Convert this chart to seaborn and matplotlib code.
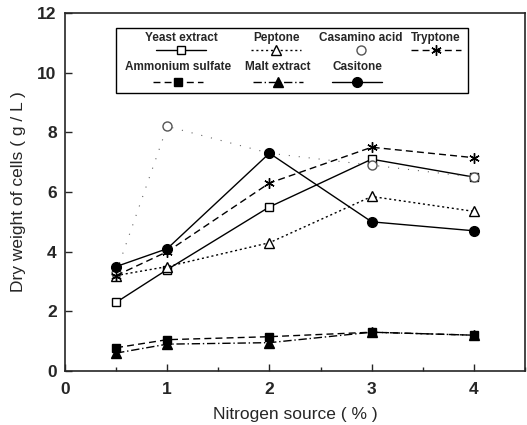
import matplotlib
matplotlib.use("Agg")
import matplotlib.pyplot as plt
from matplotlib.patches import Rectangle
from matplotlib.lines import Line2D
from matplotlib.ticker import MultipleLocator
import seaborn as sns
import pandas as pd

sns.set_style("ticks")
plt.rcParams['font.family'] = ['Liberation Sans', 'DejaVu Sans']

x_vals = [0.5, 1, 2, 3, 4]
yeast_extract = [2.3, 3.4, 5.5, 7.1, 6.5]
peptone = [3.2, 3.5, 4.3, 5.85, 5.35]
casamino_acid = [3.3, 8.2, 7.3, 6.9, 6.5]
tryptone = [3.2, 4.0, 6.3, 7.5, 7.15]
ammonium_sulfate = [0.78, 1.05, 1.15, 1.3, 1.2]
malt_extract = [0.6, 0.9, 0.95, 1.3, 1.2]
casitone = [3.5, 4.1, 7.3, 5.0, 4.7]

series = {
    "Yeast extract": yeast_extract,
    "Peptone": peptone,
    "Casamino acid": casamino_acid,
    "Tryptone": tryptone,
    "Ammonium sulfate": ammonium_sulfate,
    "Malt extract": malt_extract,
    "Casitone": casitone,
}

asterisk = (6, 2, 0)
styles = {
    "Yeast extract": dict(marker="s", ls="-", mfc="white", ms=6, lw=1.0, color="black"),
    "Peptone": dict(marker="^", ls=(0, (1.5, 2)), mfc="white", ms=7, lw=1.0, color="black"),
    "Casamino acid": dict(marker="o", ls=(0, (1, 8)), mfc="white", ms=6.5, lw=0.8, color="#666666"),
    "Tryptone": dict(marker=asterisk, ls=(0, (5, 3)), mfc="black", ms=7.5, lw=1.0, color="black"),
    "Ammonium sulfate": dict(marker="s", ls=(0, (5, 3)), mfc="black", ms=6, lw=1.0, color="black"),
    "Malt extract": dict(marker="^", ls=(0, (6, 2, 1, 2)), mfc="black", ms=6.5, lw=1.0, color="black"),
    "Casitone": dict(marker="o", ls="-", mfc="black", ms=7, lw=1.0, color="black"),
}

fig = plt.figure(figsize=(5.27, 4.25), dpi=100)
ax = fig.add_axes([65/527, 1-371/425, 460/527, 358/425])

for name, vals in series.items():
    df = pd.DataFrame({"x": x_vals, "y": vals})
    st = styles[name]
    mec = "#555555" if name == "Casamino acid" else "black"
    sns.lineplot(data=df, x="x", y="y", ax=ax, color=st["color"], marker=st["marker"],
                 linestyle=st["ls"], linewidth=st["lw"], markersize=st["ms"],
                 markerfacecolor=st["mfc"], markeredgecolor=mec, markeredgewidth=1.0)

ax.set_xlim(0, 4.5)
ax.set_ylim(0, 12)
ax.xaxis.set_major_locator(MultipleLocator(1))
ax.xaxis.set_minor_locator(MultipleLocator(0.5))
ax.yaxis.set_major_locator(MultipleLocator(2))
ax.tick_params(direction="in", which="both", labelsize=12.5, width=1.0)
ax.tick_params(which="major", length=5)
ax.tick_params(which="minor", length=3)
ax.tick_params(axis="x", pad=8)
ax.tick_params(axis="y", pad=6)
for lab in ax.get_xticklabels() + ax.get_yticklabels():
    lab.set_fontweight("bold")
for sp in ax.spines.values():
    sp.set_linewidth(1.2)
    sp.set_visible(True)
ax.set_xlabel("Nitrogen source ( % )", fontsize=12.5, labelpad=7)
ax.set_ylabel("Dry weight of cells ( g / L )", fontsize=12.5, labelpad=8)

# legend box laid out as in the original (label above sample line)
def ax_x(px):
    return (px - 65) / 460

def ax_y(py):
    return (371 - py) / 358

ax.add_patch(Rectangle((ax_x(116), ax_y(93)), ax_x(468) - ax_x(116), ax_y(28) - ax_y(93),
                       transform=ax.transAxes, fill=True, facecolor="white",
                       edgecolor="black", lw=1.0, zorder=5))
entries = [
    ("Yeast extract", 181, 38, 50),
    ("Peptone", 276, 38, 50),
    ("Casamino acid", 361, 38, 50),
    ("Tryptone", 436, 38, 50),
    ("Ammonium sulfate", 178, 67, 82),
    ("Malt extract", 278, 67, 82),
    ("Casitone", 357, 67, 82),
]
half = 25 / 460
for name, cx, ly, hy in entries:
    st = styles[name]
    ax.text(ax_x(cx), ax_y(ly), name, transform=ax.transAxes, ha="center", va="center",
            fontsize=8.5, fontweight="bold", zorder=6)
    mec = "#555555" if name == "Casamino acid" else "black"
    if name != "Casamino acid":
        ln = Line2D([ax_x(cx) - half, ax_x(cx) + half], [ax_y(hy), ax_y(hy)],
                    transform=ax.transAxes, color=st["color"], linestyle=st["ls"],
                    linewidth=st["lw"], zorder=6)
        ax.add_line(ln)
    mk = Line2D([ax_x(cx)], [ax_y(hy)], transform=ax.transAxes, marker=st["marker"],
                markersize=st["ms"], markerfacecolor=st["mfc"], markeredgecolor=mec,
                markeredgewidth=1.0, linestyle="none", zorder=7)
    ax.add_line(mk)

fig.savefig("out.png", dpi=100)
